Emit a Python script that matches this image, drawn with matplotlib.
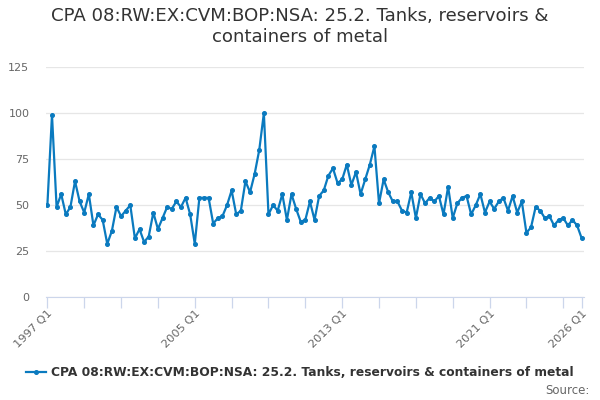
import numpy as np
import matplotlib
matplotlib.use("Agg")
import matplotlib.pyplot as plt

# quarterly values, 1997 Q1 .. 2026 Q1
years = list(range(1997, 2027))
quarters = ["%d Q%d" % (y, q) for y in years for q in range(1, 5)][:117]
values = [50, 99, 49, 56, 45, 49, 63, 52, 46, 56,
          39, 45, 42, 29, 36, 49, 44, 47, 50, 32,
          37, 30, 33, 46, 37, 43, 49, 48, 52, 49,
          54, 45, 29, 54, 54, 54, 40, 43, 44, 50,
          58, 45, 47, 63, 57, 67, 80, 100, 45, 50,
          47, 56, 42, 56, 48, 41, 42, 52, 42, 55,
          58, 66, 70, 62, 64, 72, 61, 68, 56, 64,
          72, 82, 51, 64, 57, 52, 52, 47, 46, 57,
          43, 56, 51, 54, 52, 55, 45, 60, 43, 51,
          54, 55, 45, 50, 56, 46, 52, 48, 52, 54,
          47, 55, 46, 52, 35, 38, 49, 47, 43, 44,
          39, 42, 43, 39, 42, 39, 32]
label_quarters = ["1997 Q1", "2005 Q1", "2013 Q1", "2021 Q1", "2026 Q1"]
yticks = [0, 25, 50, 75, 100, 125]

series_name = "CPA 08:RW:EX:CVM:BOP:NSA: 25.2. Tanks, reservoirs & containers of metal"
title = "CPA 08:RW:EX:CVM:BOP:NSA: 25.2. Tanks, reservoirs &\ncontainers of metal"

line_col = "#0a7abf"
grid_col = "#e6e6e6"
axis_col = "#ccd6eb"
text_col = "#666666"

fig = plt.figure(figsize=(6, 4), dpi=100)
ax = fig.add_axes([46/600, 1-297.3/400, (584-46)/600, (297.3-67)/400])

x = np.arange(len(values))
ax.plot(x, values, color=line_col, lw=1.6, marker="o", ms=2.6, label=series_name)

ax.set_xlim(-0.3, len(values) - 1 + 0.5)
ax.set_ylim(0, 125)
ax.set_yticks(yticks)
ax.yaxis.grid(True, color=grid_col, lw=0.9)
ax.set_axisbelow(True)
ax.tick_params(axis="y", length=0, labelsize=8, labelcolor=text_col, pad=12)

# minor ticks every 8 quarters, labels at chosen quarters
tick_pos = list(range(0, len(values), 8)) + [len(values) - 1]
ax.set_xticks(tick_pos, minor=True)
ax.set_xticks([quarters.index(q) for q in label_quarters])
ax.set_xticklabels(label_quarters, rotation=45, ha="right", rotation_mode="anchor")
ax.tick_params(axis="x", which="both", length=8, color=axis_col, width=0.9,
               labelsize=8.2, labelcolor=text_col, pad=0)

for s in ["top", "right", "left"]:
    ax.spines[s].set_visible(False)
ax.spines["bottom"].set_color(axis_col)

fig.text(0.5, 0.982, title, ha="center", va="top", fontsize=13.1, color="#333333",
         linespacing=1.2)

leg = fig.legend(loc="center", bbox_to_anchor=(0.5, 1-373/400), frameon=False,
                 prop={"size": 8.85, "weight": "bold"}, handlelength=1.6,
                 handletextpad=0.4)
for t in leg.get_texts():
    t.set_color("#333333")

fig.text(0.983, 1-391/400, "Source:", ha="right", va="center", fontsize=8.5,
         color=text_col)

fig.savefig("out.png", dpi=100)
